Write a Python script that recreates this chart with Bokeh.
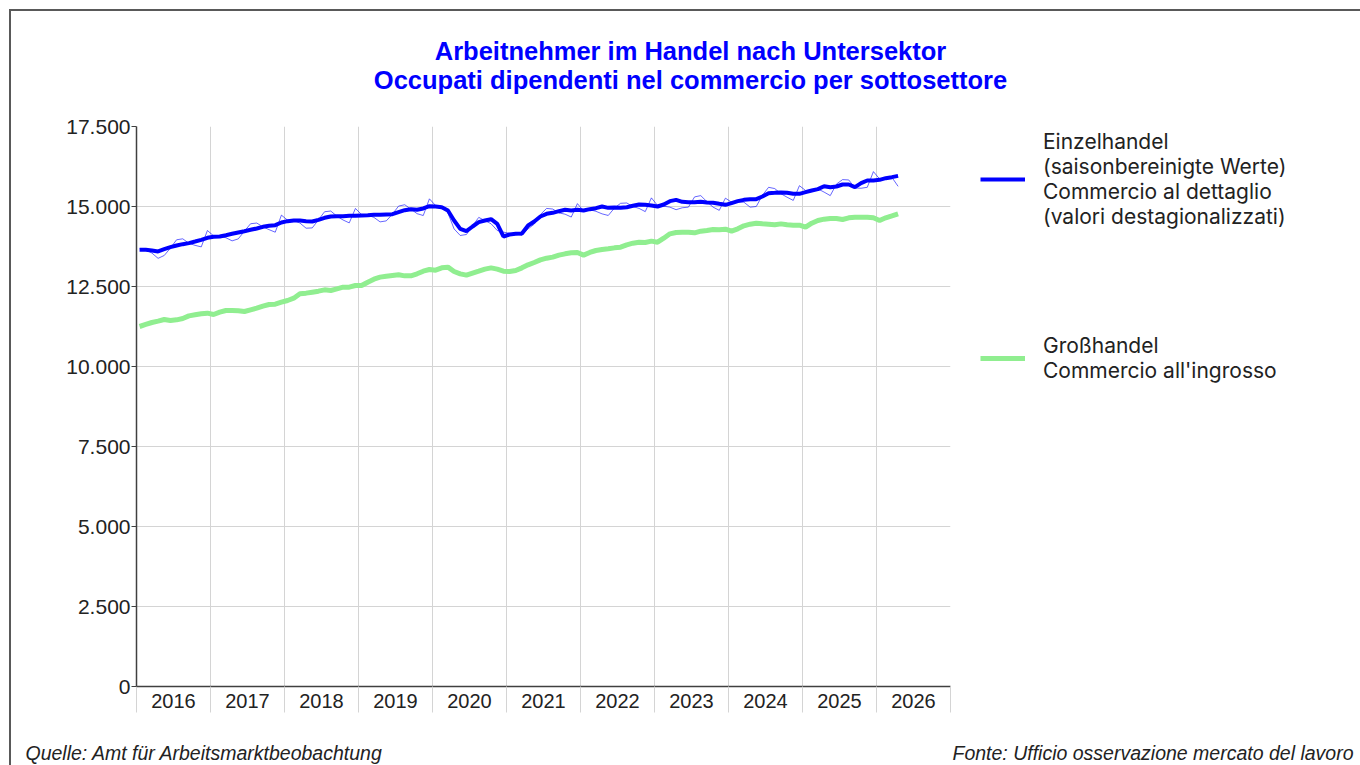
from bokeh.plotting import figure
from bokeh.models import (Range1d, FixedTicker, CustomJSTickFormatter, Label,
                          Legend, LegendItem, ColumnDataSource)
from bokeh.embed import file_html
from bokeh.resources import INLINE

# ---------------- data (monthly, Jan 2016 .. Apr 2026) ----------------
first_year = 2016
year_labels = ["2016", "2017", "2018", "2019", "2020", "2021",
               "2022", "2023", "2024", "2025", "2026"]

retail_sa = [
    13646, 13646, 13625, 13594, 13667, 13730, 13781, 13823, 13855, 13906, 13958, 14021,  # 2016
    14052, 14063, 14104, 14146, 14188, 14229, 14271, 14313, 14365, 14396, 14417, 14500,  # 2017
    14542, 14563, 14563, 14542, 14531, 14583, 14646, 14688, 14698, 14698, 14708, 14708,  # 2018
    14719, 14729, 14740, 14740, 14750, 14760, 14823, 14885, 14917, 14896, 14938, 15010,  # 2019
    15000, 14979, 14875, 14563, 14302, 14229, 14375, 14510, 14563, 14604, 14458, 14063,  # 2020
    14125, 14146, 14156, 14406, 14531, 14688, 14771, 14802, 14854, 14896, 14875, 14896,  # 2021
    14875, 14917, 14948, 15000, 14958, 14969, 14958, 14979, 15021, 15063, 15052, 15031,  # 2022
    15000, 15063, 15167, 15208, 15146, 15135, 15135, 15146, 15125, 15115, 15083, 15052,  # 2023
    15104, 15167, 15208, 15229, 15229, 15313, 15417, 15427, 15438, 15427, 15396, 15396,  # 2024
    15448, 15500, 15542, 15635, 15604, 15625, 15688, 15688, 15604, 15729, 15813, 15813,  # 2025
    15833, 15885, 15917, 15958,                                                          # 2026
]

retail_raw = [
    13676, 13646, 13545, 13380, 13470, 13700, 13960, 13990, 13850, 13786, 13738, 14250,  # 2016
    14082, 14063, 14024, 13926, 13988, 14229, 14461, 14483, 14365, 14276, 14197, 14730,  # 2017
    14572, 14563, 14483, 14322, 14331, 14583, 14836, 14858, 14698, 14578, 14488, 14938,  # 2018
    14749, 14729, 14660, 14520, 14550, 14760, 15013, 15055, 14917, 14776, 14718, 15240,  # 2019
    15030, 14979, 14800, 14300, 14094, 14125, 14400, 14660, 14560, 14460, 14250, 14200,  # 2020
    14160, 14146, 14100, 14300, 14450, 14750, 14940, 14920, 14800, 14760, 14670, 15090,  # 2021
    14860, 14900, 14850, 14770, 14720, 14950, 15100, 15110, 15000, 14940, 14840, 15270,  # 2022
    15030, 15010, 14980, 14900, 14960, 14980, 15300, 15340, 15150, 14980, 14880, 15260,  # 2023
    15135, 15140, 15135, 14980, 15000, 15350, 15600, 15560, 15400, 15290, 15190, 15650,  # 2024
    15500, 15520, 15550, 15450, 15340, 15700, 15840, 15830, 15580, 15570, 15600, 16090,  # 2025
    15860, 15880, 15910, 15630,                                                          # 2026
]

wholesale = [
    11250, 11313, 11375, 11417, 11469, 11438, 11458, 11500, 11583, 11615, 11646, 11667,  # 2016
    11625, 11698, 11750, 11750, 11740, 11719, 11771, 11823, 11885, 11938, 11948, 12010,  # 2017
    12063, 12135, 12271, 12292, 12323, 12354, 12396, 12375, 12427, 12479, 12479, 12531,  # 2018
    12531, 12635, 12729, 12792, 12823, 12844, 12865, 12833, 12833, 12896, 12979, 13031,  # 2019
    13010, 13083, 13104, 12969, 12896, 12854, 12917, 12979, 13042, 13083, 13042, 12979,  # 2020
    12969, 13000, 13083, 13177, 13250, 13333, 13385, 13417, 13479, 13521, 13552, 13563,  # 2021
    13480, 13563, 13625, 13656, 13677, 13708, 13729, 13802, 13854, 13885, 13875, 13917,  # 2022
    13885, 14010, 14146, 14188, 14198, 14198, 14177, 14229, 14250, 14281, 14271, 14292,  # 2023
    14229, 14302, 14396, 14448, 14479, 14458, 14448, 14427, 14458, 14427, 14417, 14417,  # 2024
    14354, 14479, 14563, 14604, 14625, 14625, 14594, 14646, 14667, 14667, 14667, 14646,  # 2025
    14563, 14646, 14708, 14771,                                                          # 2026
]

y_ticks = [0, 2500, 5000, 7500, 10000, 12500, 15000, 17500]

label_retail = ("Einzelhandel\n(saisonbereinigte Werte)\n"
                "Commercio al dettaglio\n(valori destagionalizzati)")
label_wholesale = "Großhandel\nCommercio all'ingrosso"
title_text = ("Arbeitnehmer im Handel nach Untersektor\n"
              "Occupati dipendenti nel commercio per sottosettore")
source_de = "Quelle: Amt für Arbeitsmarktbeobachtung"
source_it = "Fonte: Ufficio osservazione mercato del lavoro"

FONT = "Liberation Sans"
TXT = "#222222"
GRID = "#d4d4d4"
BLUE = "#0000FF"
GREEN = "#90EE90"

# ---------------- main chart ----------------
n_years = len(year_labels)
x_pos = [first_year + (i + 0.5) / 12 for i in range(len(retail_sa))]
src = ColumnDataSource(dict(x=x_pos, sa=retail_sa, raw=retail_raw, gh=wholesale))

p = figure(width=1349, height=754, output_backend="svg", toolbar_location=None,
           x_range=Range1d(first_year, first_year + n_years),
           y_range=Range1d(0, 17500),
           frame_width=814, frame_height=560,
           min_border_left=125, min_border_right=410,
           min_border_top=115, min_border_bottom=79)
p.outline_line_color = None
p.border_fill_color = "white"

year_bounds = [first_year + k for k in range(n_years + 1)]
p.xaxis.ticker = FixedTicker(ticks=[first_year + k + 0.5 for k in range(n_years)],
                             minor_ticks=year_bounds)
p.xaxis.major_label_overrides = {first_year + k + 0.5: year_labels[k] for k in range(n_years)}
p.xaxis.major_tick_line_color = None
p.xaxis.minor_tick_line_color = GRID
p.xaxis.minor_tick_out = 26
p.xaxis.minor_tick_in = 0
p.xaxis.axis_line_color = "#404040"
p.xaxis.axis_line_width = 1.5
p.xaxis.major_label_standoff = -19
p.xaxis.major_label_text_font = FONT
p.xaxis.major_label_text_font_size = "20px"
p.xaxis.major_label_text_color = TXT
p.xgrid.ticker = FixedTicker(ticks=year_bounds)
p.xgrid.grid_line_color = GRID

p.yaxis.ticker = FixedTicker(ticks=y_ticks)
p.yaxis.formatter = CustomJSTickFormatter(
    code="return tick.toFixed(0).replace(/\\B(?=(\\d{3})+(?!\\d))/g, '.');")
p.yaxis.minor_tick_line_color = None
p.yaxis.major_tick_out = 5
p.yaxis.major_tick_in = 0
p.yaxis.major_tick_line_color = "#404040"
p.yaxis.axis_line_color = "#404040"
p.yaxis.axis_line_width = 1.5
p.yaxis.major_label_standoff = 1
p.yaxis.major_label_text_font = FONT
p.yaxis.major_label_text_font_size = "21px"
p.yaxis.major_label_text_color = TXT
p.ygrid.grid_line_color = GRID

r_gh = p.line("x", "gh", source=src, line_color=GREEN, line_width=5)
p.line("x", "raw", source=src, line_color=BLUE, line_alpha=0.6, line_width=1)
r_sa = p.line("x", "sa", source=src, line_color=BLUE, line_width=4)

legend = Legend(items=[LegendItem(label=label_retail, renderers=[r_sa]),
                       LegendItem(label=label_wholesale, renderers=[r_gh])],
                location=(30, 303), orientation="vertical",
                glyph_width=45, label_standoff=18, spacing=104,
                padding=0, margin=0,
                label_text_font="Inter", label_text_font_size="21px",
                label_text_color=TXT,
                border_line_color=None, background_fill_alpha=0)
p.add_layout(legend, "right")

# title (side panel above the frame; screen units relative to that panel)
p.add_layout(Label(x=554, y=61, x_units="screen", y_units="screen", text=title_text,
                   text_align="center", text_baseline="middle",
                   text_font=FONT, text_font_style="bold", text_line_height=1.06,
                   text_font_size="25.5px", text_color=BLUE), "above")

# sources (side panels below the frame)
p.add_layout(Label(x=-111, y=-20, x_units="screen", y_units="screen", text=source_de,
                   text_align="left", text_baseline="middle", text_font=FONT,
                   text_font_style="italic", text_font_size="19.5px",
                   text_color=TXT), "below")
p.add_layout(Label(x=1217, y=2, x_units="screen", y_units="screen", text=source_it,
                   text_align="right", text_baseline="middle", text_font=FONT,
                   text_font_style="italic", text_font_size="19.5px",
                   text_color=TXT), "below")

p.styles = {"border-top": "2px solid #595959", "border-left": "2px solid #595959",
            "margin-left": "9px", "margin-top": "9px"}

open("out.html", "w").write(file_html(p, INLINE))
